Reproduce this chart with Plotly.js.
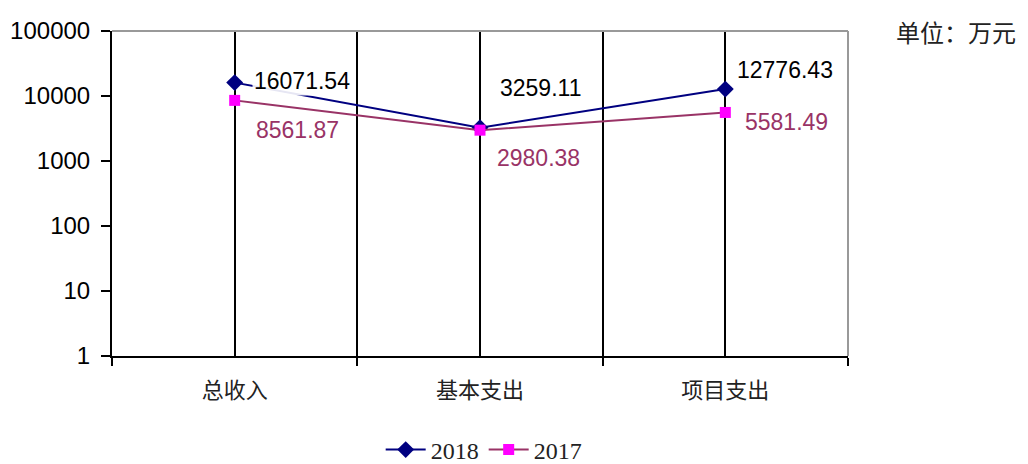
<!DOCTYPE html>
<html><head><meta charset="utf-8">
<script src="https://cdn.plot.ly/plotly-3.0.1.min.js"></script>
<style>html,body{margin:0;padding:0;background:#fff}#chart{width:1028px;height:464px}</style>
</head><body><div id="chart"></div>
<script>
const categories = ['总收入', '基本支出', '项目支出'];
const values2018 = [16071.54, 3259.11, 12776.43];
const values2017 = [8561.87, 2980.38, 5581.49];
const labels2018 = ['16071.54', '3259.11', '12776.43'];
const labels2017 = ['8561.87', '2980.38', '5581.49'];
const yTickVals = [1, 10, 100, 1000, 10000, 100000];
const yTickText = ['1', '10', '100', '1000', '10000', '100000'];

// label offsets (styling only)
const off2018 = [[17, 2], [18, 40], [10, 19]];
const off2017 = [[19, -30], [15, -28], [18, -10]];

const c2018 = '#000080', c2017 = '#993366', m2017 = '#FF00FF';

const traces = [
  {x: categories, y: values2018, name: '2018', type: 'scatter', mode: 'lines+markers',
   line: {color: c2018, width: 2}, marker: {symbol: 'diamond', size: 13, color: c2018}},
  {x: categories, y: values2017, name: '2017', type: 'scatter', mode: 'lines+markers',
   line: {color: c2017, width: 2}, marker: {symbol: 'square', size: 11, color: m2017}},
  {x: [0, 2], y: [1, 1], xaxis: 'x2', yaxis: 'y', mode: 'markers', marker: {opacity: 0},
   showlegend: false, hoverinfo: 'skip'}
];

const annotations = [];
categories.forEach((c, i) => {
  annotations.push({x: c, y: Math.log10(values2018[i]), xref: 'x', yref: 'y', text: labels2018[i],
    showarrow: false, xanchor: 'left', yanchor: 'middle', xshift: off2018[i][0], yshift: off2018[i][1],
    font: {family: 'Liberation Sans, Arial', size: 23, color: '#000'}, bgcolor: 'rgba(255,255,255,0.9)'});
  annotations.push({x: c, y: Math.log10(values2017[i]), xref: 'x', yref: 'y', text: labels2017[i],
    showarrow: false, xanchor: 'left', yanchor: 'middle', xshift: off2017[i][0], yshift: off2017[i][1],
    font: {family: 'Liberation Sans, Arial', size: 23, color: c2017}, bgcolor: 'rgba(255,255,255,0.9)'});
});
annotations.push({xref: 'paper', yref: 'paper', x: 1.0625, y: 1.0, xanchor: 'left', yanchor: 'middle',
  text: '单位：万元', showarrow: false, font: {family: 'Noto Sans CJK SC', size: 24, color: '#222'}});

const layout = {
  width: 1028, height: 464,
  margin: {l: 112, r: 180, t: 31, b: 108, autoexpand: false},
  paper_bgcolor: '#fff', plot_bgcolor: '#fff',
  showlegend: true,
  legend: {orientation: 'h', x: 0.505, xanchor: 'center', y: -0.22, yanchor: 'top',
    font: {family: 'Liberation Serif, Times New Roman', size: 24, color: '#222'}, itemwidth: 40},
  xaxis: {type: 'category', range: [-0.5, 2.5], tickson: 'boundaries', ticks: 'outside', ticklen: 8,
    tickcolor: '#000', tickwidth: 2, showgrid: true, gridcolor: '#000', gridwidth: 2,
    showline: true, linecolor: '#000', linewidth: 2, zeroline: false, ticklabelstandoff: 14,
    tickfont: {family: 'Noto Sans CJK SC', size: 22, color: '#222'}},
  xaxis2: {overlaying: 'x', range: [-0.5, 2.5], tickvals: [0, 1, 2], showticklabels: false,
    ticks: '', showgrid: true, gridcolor: '#000', gridwidth: 2, zeroline: false, showline: false},
  yaxis: {type: 'log', range: [0, 5], tickvals: yTickVals, ticktext: yTickText, ticks: 'outside',
    ticklen: 9, tickcolor: '#000', tickwidth: 2, showgrid: false, zeroline: false,
    showline: true, linecolor: '#000', linewidth: 2, ticklabelstandoff: 6,
    tickfont: {family: 'Liberation Sans, Arial', size: 24, color: '#000'}},
  shapes: [
    {type: 'line', xref: 'paper', yref: 'paper', x0: 0, x1: 1, y0: 1, y1: 1, line: {color: '#999', width: 2}},
    {type: 'line', xref: 'paper', yref: 'paper', x0: 1, x1: 1, y0: 0, y1: 1, line: {color: '#999', width: 2}}
  ],
  annotations: annotations
};

Plotly.newPlot('chart', traces, layout, {staticPlot: true, displayModeBar: false});
</script></body></html>
